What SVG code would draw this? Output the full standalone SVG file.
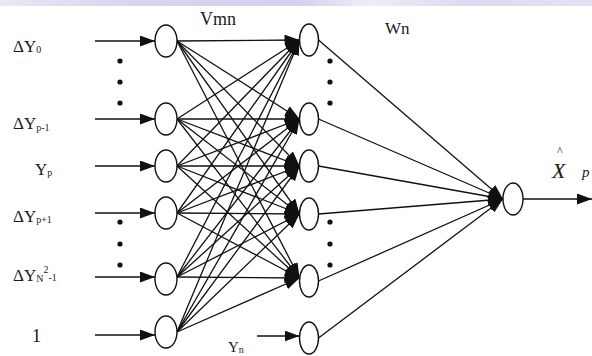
<svg xmlns="http://www.w3.org/2000/svg" width="592" height="356" viewBox="0 0 592 356">
<style>
.node{fill:#fff;stroke:#111;stroke-width:1.4}
.ln{stroke:#111;stroke-width:1.3;fill:none}
.ar{marker-end:url(#ah)}
.lbl{font-family:"Liberation Serif","Times New Roman",serif;fill:#1a1a1a;font-size:17px}
.sub{font-size:10px}
.dot{fill:#111}
</style>
<defs>
<marker id="ah" markerUnits="userSpaceOnUse" markerWidth="15" markerHeight="11" refX="15" refY="5.5" orient="auto">
<path d="M0,0 L15,5.5 L0,11 z" fill="#111"/>
</marker>
<linearGradient id="band" x1="0" x2="1" y1="0" y2="0">
<stop offset="0" stop-color="#e9e8f4"/>
<stop offset="0.2" stop-color="#d9d6ef"/>
<stop offset="0.5" stop-color="#d3cfee"/>
<stop offset="0.62" stop-color="#eeedf6"/>
<stop offset="0.8" stop-color="#dcd9f0"/>
<stop offset="1" stop-color="#e4e2f2"/>
</linearGradient>
</defs>
<rect x="0" y="0" width="592" height="356" fill="#fff"/>
<rect x="0" y="0" width="592" height="6" fill="url(#band)"/>

<g id="connectors">
<line class="ln ar" x1="95" y1="41" x2="155" y2="41"/>
<line class="ln ar" x1="95" y1="119" x2="155" y2="119"/>
<line class="ln ar" x1="95" y1="166" x2="155" y2="166"/>
<line class="ln ar" x1="95" y1="213" x2="155" y2="213"/>
<line class="ln ar" x1="95" y1="277" x2="155" y2="277"/>
<line class="ln ar" x1="95" y1="335" x2="155" y2="335"/>
<g class="ln ar">
<line x1="177" y1="41" x2="299.5" y2="40"/>
<line x1="177" y1="41" x2="299.5" y2="119"/>
<line x1="177" y1="41" x2="299.5" y2="166"/>
<line x1="177" y1="41" x2="299.5" y2="214"/>
<line x1="177" y1="41" x2="299.5" y2="278"/>
<line x1="177" y1="119" x2="299.5" y2="40"/>
<line x1="177" y1="119" x2="299.5" y2="119"/>
<line x1="177" y1="119" x2="299.5" y2="166"/>
<line x1="177" y1="119" x2="299.5" y2="214"/>
<line x1="177" y1="119" x2="299.5" y2="278"/>
<line x1="177" y1="166" x2="299.5" y2="40"/>
<line x1="177" y1="166" x2="299.5" y2="119"/>
<line x1="177" y1="166" x2="299.5" y2="166"/>
<line x1="177" y1="166" x2="299.5" y2="214"/>
<line x1="177" y1="166" x2="299.5" y2="278"/>
<line x1="177" y1="213" x2="299.5" y2="40"/>
<line x1="177" y1="213" x2="299.5" y2="119"/>
<line x1="177" y1="213" x2="299.5" y2="166"/>
<line x1="177" y1="213" x2="299.5" y2="214"/>
<line x1="177" y1="213" x2="299.5" y2="278"/>
<line x1="177" y1="277" x2="299.5" y2="40"/>
<line x1="177" y1="277" x2="299.5" y2="119"/>
<line x1="177" y1="277" x2="299.5" y2="166"/>
<line x1="177" y1="277" x2="299.5" y2="214"/>
<line x1="177" y1="277" x2="299.5" y2="278"/>
<line x1="177" y1="332" x2="299.5" y2="40"/>
<line x1="177" y1="332" x2="299.5" y2="119"/>
<line x1="177" y1="332" x2="299.5" y2="166"/>
<line x1="177" y1="332" x2="299.5" y2="214"/>
<line x1="177" y1="332" x2="299.5" y2="278"/>
</g>
<g class="ln ar">
<line x1="318.5" y1="40" x2="503" y2="199"/>
<line x1="318.5" y1="119" x2="503" y2="199"/>
<line x1="318.5" y1="166" x2="503" y2="199"/>
<line x1="318.5" y1="214" x2="503" y2="199"/>
<line x1="318.5" y1="281" x2="503" y2="199"/>
<line x1="318.5" y1="338" x2="503" y2="199"/>
</g>
<line class="ln ar" x1="257" y1="336" x2="299.5" y2="336"/>
<line class="ln ar" x1="523" y1="199" x2="592" y2="199"/>
</g>

<g id="input-nodes">
<ellipse id="in0" class="node" cx="166" cy="41" rx="11" ry="16"/>
<ellipse id="in1" class="node" cx="166" cy="119" rx="11" ry="16"/>
<ellipse id="in2" class="node" cx="166" cy="166" rx="11" ry="16"/>
<ellipse id="in3" class="node" cx="166" cy="213" rx="11" ry="16"/>
<ellipse id="in4" class="node" cx="166" cy="279" rx="11" ry="16"/>
<ellipse id="in5" class="node" cx="166" cy="332" rx="11" ry="16"/>
</g>
<g id="hidden-nodes">
<ellipse id="h0" class="node" cx="309" cy="40" rx="9.5" ry="16"/>
<ellipse id="h1" class="node" cx="309" cy="119" rx="9.5" ry="16"/>
<ellipse id="h2" class="node" cx="309" cy="166" rx="9.5" ry="16"/>
<ellipse id="h3" class="node" cx="309" cy="214" rx="9.5" ry="16"/>
<ellipse id="h4" class="node" cx="309" cy="281" rx="9.5" ry="16"/>
<ellipse id="h5" class="node" cx="309" cy="338" rx="9.5" ry="16"/>
</g>
<g id="output-node">
<ellipse id="out" class="node" cx="513" cy="199" rx="10" ry="16"/>
</g>

<g id="dots">
<circle class="dot" cx="120" cy="61" r="2.6"/>
<circle class="dot" cx="120" cy="82" r="2.6"/>
<circle class="dot" cx="120" cy="103" r="2.6"/>
<circle class="dot" cx="120" cy="222" r="2.6"/>
<circle class="dot" cx="120" cy="244" r="2.6"/>
<circle class="dot" cx="120" cy="265" r="2.6"/>
<circle class="dot" cx="330" cy="61" r="2.6"/>
<circle class="dot" cx="330" cy="82" r="2.6"/>
<circle class="dot" cx="330" cy="103" r="2.6"/>
<circle class="dot" cx="330" cy="222" r="2.6"/>
<circle class="dot" cx="330" cy="244" r="2.6"/>
<circle class="dot" cx="330" cy="265" r="2.6"/>
</g>

<g id="labels">
<text class="lbl" x="13" y="52">ΔY<tspan class="sub" dy="1">0</tspan></text>
<text class="lbl" x="13" y="129">ΔY<tspan class="sub" dy="2">p-1</tspan></text>
<text class="lbl" x="35" y="175">Y<tspan class="sub" dy="1">p</tspan></text>
<text class="lbl" x="13" y="222">ΔY<tspan class="sub" dy="1">p+1</tspan></text>
<text class="lbl" x="13" y="281">ΔY<tspan class="sub" dy="1">N</tspan><tspan class="sub" dy="-9">2</tspan><tspan class="sub" dy="8">-1</tspan></text>
<text class="lbl" x="32" y="342" style="font-size:18px">1</text>
<text class="lbl" x="200" y="25" style="font-size:18px">Vmn</text>
<text class="lbl" x="385" y="34" style="font-size:17px">Wn</text>
<text class="lbl" x="228" y="352" style="font-size:15px">Y<tspan class="sub" dy="1">n</tspan></text>
<text class="lbl" x="557" y="155" style="font-size:12px">^</text>
<text class="lbl" x="552" y="178" style="font-size:22px;font-style:italic">X</text>
<text class="lbl" x="582" y="177" style="font-size:15px;font-style:italic">p</text>
</g>
</svg>
